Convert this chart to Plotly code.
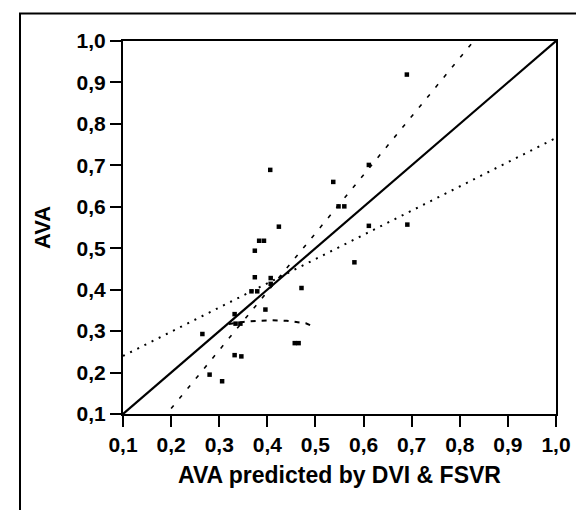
import plotly.graph_objects as go

# Observed points: x = AVA predicted by DVI & FSVR, y = AVA
pred_ava = [0.690, 0.406, 0.537, 0.548, 0.560, 0.611, 0.424, 0.383, 0.393, 0.374,
            0.611, 0.691, 0.581, 0.374, 0.407, 0.407, 0.367, 0.379, 0.471, 0.396,
            0.332, 0.334, 0.344, 0.265, 0.457, 0.465, 0.332, 0.346, 0.280, 0.306]
meas_ava = [0.919, 0.689, 0.660, 0.601, 0.601, 0.701, 0.552, 0.518, 0.518, 0.494,
            0.554, 0.557, 0.466, 0.430, 0.428, 0.414, 0.396, 0.396, 0.404, 0.352,
            0.341, 0.318, 0.318, 0.293, 0.271, 0.271, 0.242, 0.239, 0.195, 0.179]

# Line of identity
identity_x = [0.1, 1.0]
identity_y = [0.1, 1.0]

# Steep dashed bound
steep_x = [0.2, 0.829]
steep_y = [0.113, 1.0]

# Shallow dotted bound
shallow_x = [0.1, 1.0]
shallow_y = [0.240, 0.766]

# Short dashed curve
curve_x = [0.320, 0.350, 0.380, 0.410, 0.440, 0.465, 0.480, 0.490]
curve_y = [0.317, 0.322, 0.325, 0.326, 0.325, 0.322, 0.319, 0.314]

tick_vals = [0.1, 0.2, 0.3, 0.4, 0.5, 0.6, 0.7, 0.8, 0.9, 1.0]
tick_text = ["0,1", "0,2", "0,3", "0,4", "0,5", "0,6", "0,7", "0,8", "0,9", "1,0"]

fig = go.Figure()
fig.add_trace(go.Scatter(x=identity_x, y=identity_y, mode="lines",
                         line=dict(color="black", width=2.2), showlegend=False))
fig.add_trace(go.Scatter(x=steep_x, y=steep_y, mode="lines",
                         line=dict(color="black", width=1.6, dash="4px,9px"), showlegend=False))
fig.add_trace(go.Scatter(x=shallow_x, y=shallow_y, mode="lines",
                         line=dict(color="black", width=2, dash="2px,6px"), showlegend=False))
fig.add_trace(go.Scatter(x=curve_x, y=curve_y, mode="lines",
                         line=dict(color="black", width=2, dash="5px,6px"), showlegend=False))
fig.add_trace(go.Scatter(x=pred_ava, y=meas_ava, mode="markers",
                         marker=dict(symbol="square", size=4.5, color="black"),
                         showlegend=False, cliponaxis=False))

L, R, T, B = 115, 36, 33, 104
W, H = 584, 510
pw, ph = W - L - R, H - T - B


def px_x(p):
    return (p - L) / pw


def px_y(p):
    return (H - B - p) / ph


font_family = "Liberation Sans, Arial, sans-serif"
axis_common = dict(
    range=[0.1, 1.0], tickvals=tick_vals, ticktext=tick_text,
    showline=True, mirror=True, linecolor="black", linewidth=2,
    ticks="outside", ticklen=11, tickwidth=2, tickcolor="black",
    showgrid=False, zeroline=False,
    tickfont=dict(family=font_family, size=21, color="black", weight="bold"),
)

fig.update_layout(
    width=W, height=H,
    margin=dict(l=L, r=R, t=T, b=B, autoexpand=False),
    paper_bgcolor="white", plot_bgcolor="white",
    xaxis=dict(**axis_common,
               title=dict(text="AVA predicted by DVI & FSVR", standoff=12,
                          font=dict(family=font_family, size=23, color="black", weight="bold"))),
    yaxis=dict(**axis_common,
               title=dict(text="AVA", standoff=20,
                          font=dict(family=font_family, size=22, color="black", weight="bold"))),
    shapes=[dict(type="rect", xref="paper", yref="paper",
                 x0=px_x(12), x1=px_x(580), y0=px_y(525), y1=px_y(5.5),
                 line=dict(color="black", width=2), layer="below")],
)

fig.write_html("out.html")
